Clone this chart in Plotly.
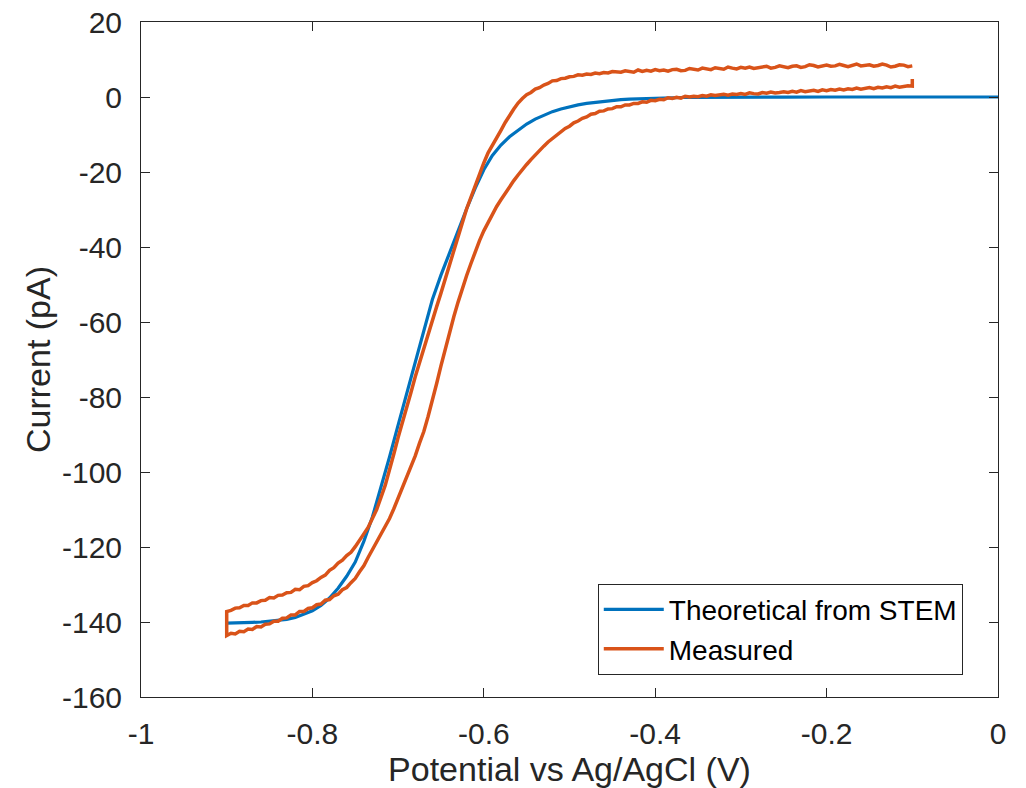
import plotly.graph_objects as go

# Axis ticks
x_tickvals = [-1, -0.8, -0.6, -0.4, -0.2, 0]
x_ticktext = ["-1", "-0.8", "-0.6", "-0.4", "-0.2", "0"]
y_tickvals = [20, 0, -20, -40, -60, -80, -100, -120, -140, -160]
y_ticktext = ["20", "0", "-20", "-40", "-60", "-80", "-100", "-120", "-140", "-160"]

# Theoretical current from STEM geometry (V vs Ag/AgCl, pA)
theory_v = [-0.90, -0.89, -0.88, -0.87, -0.86, -0.85, -0.84, -0.83, -0.82, -0.81,
            -0.80, -0.79, -0.78, -0.77, -0.76, -0.75, -0.74, -0.73, -0.72, -0.71,
            -0.70, -0.69, -0.68, -0.67, -0.66, -0.65, -0.64, -0.63, -0.62, -0.61,
            -0.60, -0.59, -0.58, -0.57, -0.56, -0.55, -0.54, -0.53, -0.52, -0.51,
            -0.50, -0.49, -0.48, -0.47, -0.46, -0.45, -0.44, -0.43, -0.42, -0.41,
            -0.40, -0.39, -0.38, -0.37, -0.36, -0.35, -0.34, -0.33, -0.32,
            -0.30, -0.25, -0.20, -0.15, -0.10, -0.05, 0.00]
theory_i = [-140.3, -140.3, -140.2, -140.1, -140.0, -139.8, -139.6, -139.3, -138.8, -138.0,
            -137.0, -135.6, -133.6, -131.0, -127.8, -124.0, -118.5, -112.0, -104.2, -96.0,
            -87.5, -79.0, -70.5, -62.0, -54.0, -47.5, -41.5, -35.5, -29.8, -24.3,
            -19.4, -15.6, -12.8, -10.6, -8.8, -7.2, -5.9, -4.8, -3.9, -3.2,
            -2.6, -2.1, -1.7, -1.4, -1.1, -0.9, -0.7, -0.55, -0.45, -0.35,
            -0.28, -0.22, -0.17, -0.13, -0.10, -0.08, -0.06, -0.05, -0.04,
            -0.03, -0.01, 0.0, 0.0, 0.0, 0.0, 0.0]

# Measured voltammogram, first sweep: -0.1 V down to -0.9 V
sweep1_v = [-0.100, -0.105, -0.110, -0.115, -0.120, -0.125, -0.130, -0.135, -0.140, -0.145,
            -0.150, -0.155, -0.160, -0.165, -0.170, -0.175, -0.180, -0.185, -0.190, -0.195,
            -0.200, -0.205, -0.210, -0.215, -0.220, -0.225, -0.230, -0.235, -0.240, -0.245,
            -0.250, -0.255, -0.260, -0.265, -0.270, -0.275, -0.280, -0.285, -0.290, -0.295,
            -0.300, -0.305, -0.310, -0.315, -0.320, -0.325, -0.330, -0.335, -0.340, -0.345,
            -0.350, -0.355, -0.360, -0.365, -0.370, -0.375, -0.380, -0.385, -0.390, -0.395,
            -0.400, -0.405, -0.410, -0.415, -0.420, -0.425, -0.430, -0.435, -0.440, -0.445,
            -0.450, -0.455, -0.460, -0.465, -0.470, -0.475, -0.480, -0.485, -0.490, -0.495,
            -0.500, -0.505, -0.510, -0.515, -0.520, -0.525, -0.530, -0.535, -0.540, -0.545,
            -0.550, -0.555, -0.560, -0.565, -0.570, -0.575, -0.580, -0.585, -0.590, -0.595,
            -0.600, -0.605, -0.610, -0.615, -0.620, -0.625, -0.630, -0.635, -0.640, -0.645,
            -0.650, -0.655, -0.660, -0.665, -0.670, -0.675, -0.680, -0.685, -0.690, -0.695,
            -0.700, -0.705, -0.710, -0.715, -0.720, -0.725, -0.730, -0.735, -0.740, -0.745,
            -0.750, -0.755, -0.760, -0.765, -0.770, -0.775, -0.780, -0.785, -0.790, -0.795,
            -0.800, -0.805, -0.810, -0.815, -0.820, -0.825, -0.830, -0.835, -0.840, -0.845,
            -0.850, -0.855, -0.860, -0.865, -0.870, -0.875, -0.880, -0.885, -0.890, -0.895,
            -0.900, -0.900, -0.900]
sweep1_i = [8.3, 8.1, 8.5, 8.6, 8.2, 8.0, 8.5, 8.8, 8.4, 8.2,
            8.6, 8.4, 8.3, 8.8, 8.5, 8.1, 8.4, 8.7, 8.3, 8.2,
            8.5, 8.2, 8.0, 8.4, 8.6, 8.1, 7.9, 8.3, 8.2, 7.8,
            8.1, 8.3, 7.9, 7.7, 8.2, 8.0, 7.8, 7.6, 8.0, 7.7,
            7.9, 7.5, 7.7, 8.0, 7.4, 7.6, 7.8, 7.3, 7.4, 7.7,
            7.2, 7.4, 7.6, 7.1, 7.0, 7.4, 7.3, 6.9, 7.2, 7.0,
            7.3, 6.9, 7.1, 6.8, 7.2, 6.6, 6.9, 7.0, 6.6, 6.7,
            6.8, 6.4, 6.5, 6.2, 6.4, 6.0, 6.1, 5.8, 5.9, 5.5,
            5.4, 5.0, 4.9, 4.4, 4.3, 3.6, 3.2, 2.5, 2.1, 1.2,
            0.6, -0.4, -1.6, -3.2, -4.9, -6.8, -8.9, -10.8, -12.8, -14.9,
            -17.6, -20.6, -23.2, -26.6, -29.8, -33.5, -37.4, -41.2, -45.0, -48.6,
            -52.3, -55.9, -59.5, -63.5, -67.0, -71.0, -74.6, -78.8, -82.6, -86.9,
            -90.8, -95.2, -99.4, -103.5, -106.8, -110.0, -112.4, -114.8, -116.5, -118.4,
            -119.9, -121.4, -122.3, -123.5, -124.3, -125.5, -126.2, -127.5, -128.1, -129.0,
            -129.5, -130.3, -130.5, -131.4, -131.3, -132.1, -132.2, -132.8, -132.9, -133.6,
            -133.5, -134.2, -134.3, -134.9, -134.9, -135.6, -135.6, -136.2, -136.3, -136.9,
            -137.2, -140.2, -143.6]

# Measured voltammogram, return sweep: -0.9 V back up to -0.1 V
sweep2_v = [-0.900, -0.895, -0.890, -0.885, -0.880, -0.875, -0.870, -0.865, -0.860, -0.855,
            -0.850, -0.845, -0.840, -0.835, -0.830, -0.825, -0.820, -0.815, -0.810, -0.805,
            -0.800, -0.795, -0.790, -0.785, -0.780, -0.775, -0.770, -0.765, -0.760, -0.755,
            -0.750, -0.745, -0.740, -0.735, -0.730, -0.725, -0.720, -0.715, -0.710, -0.705,
            -0.700, -0.695, -0.690, -0.685, -0.680, -0.675, -0.670, -0.665, -0.660, -0.655,
            -0.650, -0.645, -0.640, -0.635, -0.630, -0.625, -0.620, -0.615, -0.610, -0.605,
            -0.600, -0.595, -0.590, -0.585, -0.580, -0.575, -0.570, -0.565, -0.560, -0.555,
            -0.550, -0.545, -0.540, -0.535, -0.530, -0.525, -0.520, -0.515, -0.510, -0.505,
            -0.500, -0.495, -0.490, -0.485, -0.480, -0.475, -0.470, -0.465, -0.460, -0.455,
            -0.450, -0.445, -0.440, -0.435, -0.430, -0.425, -0.420, -0.415, -0.410, -0.405,
            -0.400, -0.395, -0.390, -0.385, -0.380, -0.375, -0.370, -0.365, -0.360, -0.355,
            -0.350, -0.345, -0.340, -0.335, -0.330, -0.325, -0.320, -0.315, -0.310, -0.305,
            -0.300, -0.295, -0.290, -0.285, -0.280, -0.275, -0.270, -0.265, -0.260, -0.255,
            -0.250, -0.245, -0.240, -0.235, -0.230, -0.225, -0.220, -0.215, -0.210, -0.205,
            -0.200, -0.195, -0.190, -0.185, -0.180, -0.175, -0.170, -0.165, -0.160, -0.155,
            -0.150, -0.145, -0.140, -0.135, -0.130, -0.125, -0.120, -0.115, -0.110, -0.105,
            -0.100, -0.100]
sweep2_i = [-143.6, -143.0, -143.2, -142.5, -142.6, -141.9, -142.0, -141.2, -141.3, -140.6,
            -140.5, -139.8, -139.8, -139.0, -138.9, -138.1, -138.1, -137.2, -137.2, -136.4,
            -136.2, -135.4, -135.2, -134.2, -134.0, -133.0, -132.6, -131.4, -130.8, -129.5,
            -128.4, -126.6, -125.0, -122.8, -120.7, -118.6, -116.6, -114.5, -112.4, -109.8,
            -107.1, -104.2, -101.6, -98.6, -95.7, -92.3, -89.2, -85.2, -81.2, -76.4,
            -71.7, -67.0, -62.7, -58.6, -54.7, -51.0, -47.6, -44.4, -41.2, -38.3,
            -35.7, -33.4, -31.2, -29.2, -27.4, -25.6, -24.0, -22.3, -20.8, -19.3,
            -18.0, -16.7, -15.4, -14.2, -13.1, -12.0, -11.1, -10.1, -9.3, -8.4,
            -7.8, -6.9, -6.4, -5.7, -5.3, -4.6, -4.4, -3.8, -3.7, -3.2,
            -3.1, -2.6, -2.6, -2.1, -2.1, -1.7, -1.7, -1.3, -1.4, -0.9,
            -1.0, -0.6, -0.7, -0.2, -0.4, -0.1, -0.3, 0.2, 0.0, 0.2,
            0.1, 0.4, 0.2, 0.6, 0.4, 0.5, 0.7, 0.5, 0.8, 0.7,
            0.9, 0.7, 1.1, 0.9, 0.8, 1.2, 1.0, 1.3, 1.1, 1.2,
            1.4, 1.2, 1.5, 1.3, 1.7, 1.4, 1.6, 1.8, 1.5, 1.9,
            1.7, 2.0, 1.8, 2.1, 1.9, 2.2, 2.0, 2.4, 2.1, 2.3,
            2.5, 2.2, 2.6, 2.4, 2.7, 2.5, 2.9, 2.6, 2.8, 3.0,
            2.9, 4.8]

FONT = "Liberation Sans, Arial, Helvetica, sans-serif"
AXIS_COLOR = "#262626"

fig = go.Figure()
fig.add_trace(go.Scatter(
    x=theory_v, y=theory_i, mode="lines", name="Theoretical from STEM",
    line=dict(color="#0072BD", width=3.2)))
fig.add_trace(go.Scatter(
    x=sweep1_v + sweep2_v, y=sweep1_i + sweep2_i, mode="lines", name="Measured",
    line=dict(color="#D95319", width=3.5)))

axis_common = dict(
    showline=True, linecolor=AXIS_COLOR, linewidth=1, mirror="ticks",
    ticks="inside", ticklen=9, tickcolor=AXIS_COLOR, tickwidth=1,
    showgrid=False, zeroline=False,
    tickfont=dict(family=FONT, size=30, color=AXIS_COLOR),
)

fig.update_xaxes(
    range=[-1, 0], tickvals=x_tickvals, ticktext=x_ticktext,
    title=dict(text="Potential vs Ag/AgCl (V)", font=dict(family=FONT, size=34, color=AXIS_COLOR), standoff=6),
    ticklabelstandoff=10,
    **axis_common)
fig.update_yaxes(
    range=[-160, 20], tickvals=y_tickvals, ticktext=y_ticktext,
    title=dict(text="Current (pA)", font=dict(family=FONT, size=34, color=AXIS_COLOR), standoff=1),
    ticklabelstandoff=12,
    **axis_common)

fig.update_layout(
    width=1026, height=788,
    margin=dict(l=141, r=28, t=22, b=91, autoexpand=False),
    paper_bgcolor="white", plot_bgcolor="white",
    legend=dict(
        x=0.533, y=0.168, xanchor="left", yanchor="top",
        bgcolor="white", bordercolor=AXIS_COLOR, borderwidth=1,
        font=dict(family=FONT, size=28, color="black"),
        itemwidth=60, tracegroupgap=0,
    ),
    showlegend=True,
)

fig.write_html("out.html")
